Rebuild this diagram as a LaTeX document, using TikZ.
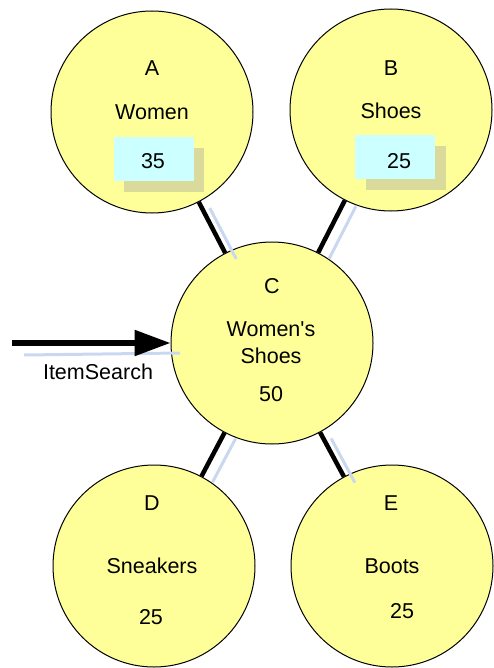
\documentclass[tikz,border=0pt]{standalone}
\usepackage{fontspec}
\setmainfont{Liberation Sans}
\usetikzlibrary{arrows.meta}
\definecolor{circfill}{HTML}{FFFF99}
\definecolor{boxfill}{HTML}{CCFFFF}
\definecolor{boxshade}{HTML}{DADA9C}
\definecolor{shadeblue}{HTML}{C9D8F0}
\begin{document}
\begin{tikzpicture}[x=1pt,y=-1pt,
  circ/.style={circle, draw=black, line width=1pt, fill=circfill, minimum size=202pt, inner sep=0pt},
  lbl/.style={font=\fontsize{21.5}{25}\selectfont, inner sep=0pt, anchor=center},
  numbox/.style={fill=boxfill, minimum width=80pt, minimum height=44pt, inner sep=0pt},
  numshade/.style={fill=boxshade, minimum width=80pt, minimum height=44pt, inner sep=0pt},
  link/.style={line width=4.5pt, black},
  linkshade/.style={line width=3pt, shadeblue, transform canvas={shift={(11pt,-6pt)}}},
  arrowline/.style={line width=5.5pt, black, -{Triangle[length=36pt,width=25pt]}},
  arrowshade/.style={line width=3pt, shadeblue},
]
\useasboundingbox (0,0) rectangle (493,668);

% circles
\node[circ] (A) at (152,112) {};
\node[circ] (B) at (391,110) {};
\node[circ] (C) at (272,343) {};
\node[circ] (D) at (154,566) {};
\node[circ] (E) at (392,566) {};

% connector shadows
\draw[linkshade] (A) -- (C);
\draw[linkshade] (B) -- (C);
\draw[linkshade] (C) -- (D);
\draw[linkshade] (C) -- (E);

% connectors
\draw[link] (A) -- (C);
\draw[link] (B) -- (C);
\draw[link] (C) -- (D);
\draw[link] (C) -- (E);

% incoming arrow
\coordinate (shstart) at (24,355);
\coordinate (shend) at (180,353);
\draw[arrowshade] (shstart) -- (shend);
\coordinate (arrowstart) at (12,343);
\draw[arrowline] (arrowstart) -- (C);
\node[lbl] (itemsearch) at (98,372) {ItemSearch};

% A
\node[lbl] (Aletter) at (152,68) {A};
\node[lbl] (Aname) at (152,112) {Women};
\node[numshade] (Ashade) at (164,170) {};
\node[numbox] (Abox) at (154,159) {};
\node[lbl] (Anum) at (153,161) {35};

% B
\node[lbl] (Bletter) at (391,68) {B};
\node[lbl] (Bname) at (391,111) {Shoes};
\node[numshade] (Bshade) at (406,168) {};
\node[numbox] (Bbox) at (395,157) {};
\node[lbl] (Bnum) at (399,161) {25};

% C
\node[lbl] (Cletter) at (272,286) {C};
\node[lbl] (Cname1) at (271,329) {Women\textquotesingle s};
\node[lbl] (Cname2) at (271,356) {Shoes};
\node[lbl] (Cnum) at (271,394) {50};

% D
\node[lbl] (Dletter) at (152,503) {D};
\node[lbl] (Dname) at (152,566) {Sneakers};
\node[lbl] (Dnum) at (151,617) {25};

% E
\node[lbl] (Eletter) at (391,503) {E};
\node[lbl] (Ename) at (392,566) {Boots};
\node[lbl] (Enum) at (402,611) {25};
\end{tikzpicture}
\end{document}
